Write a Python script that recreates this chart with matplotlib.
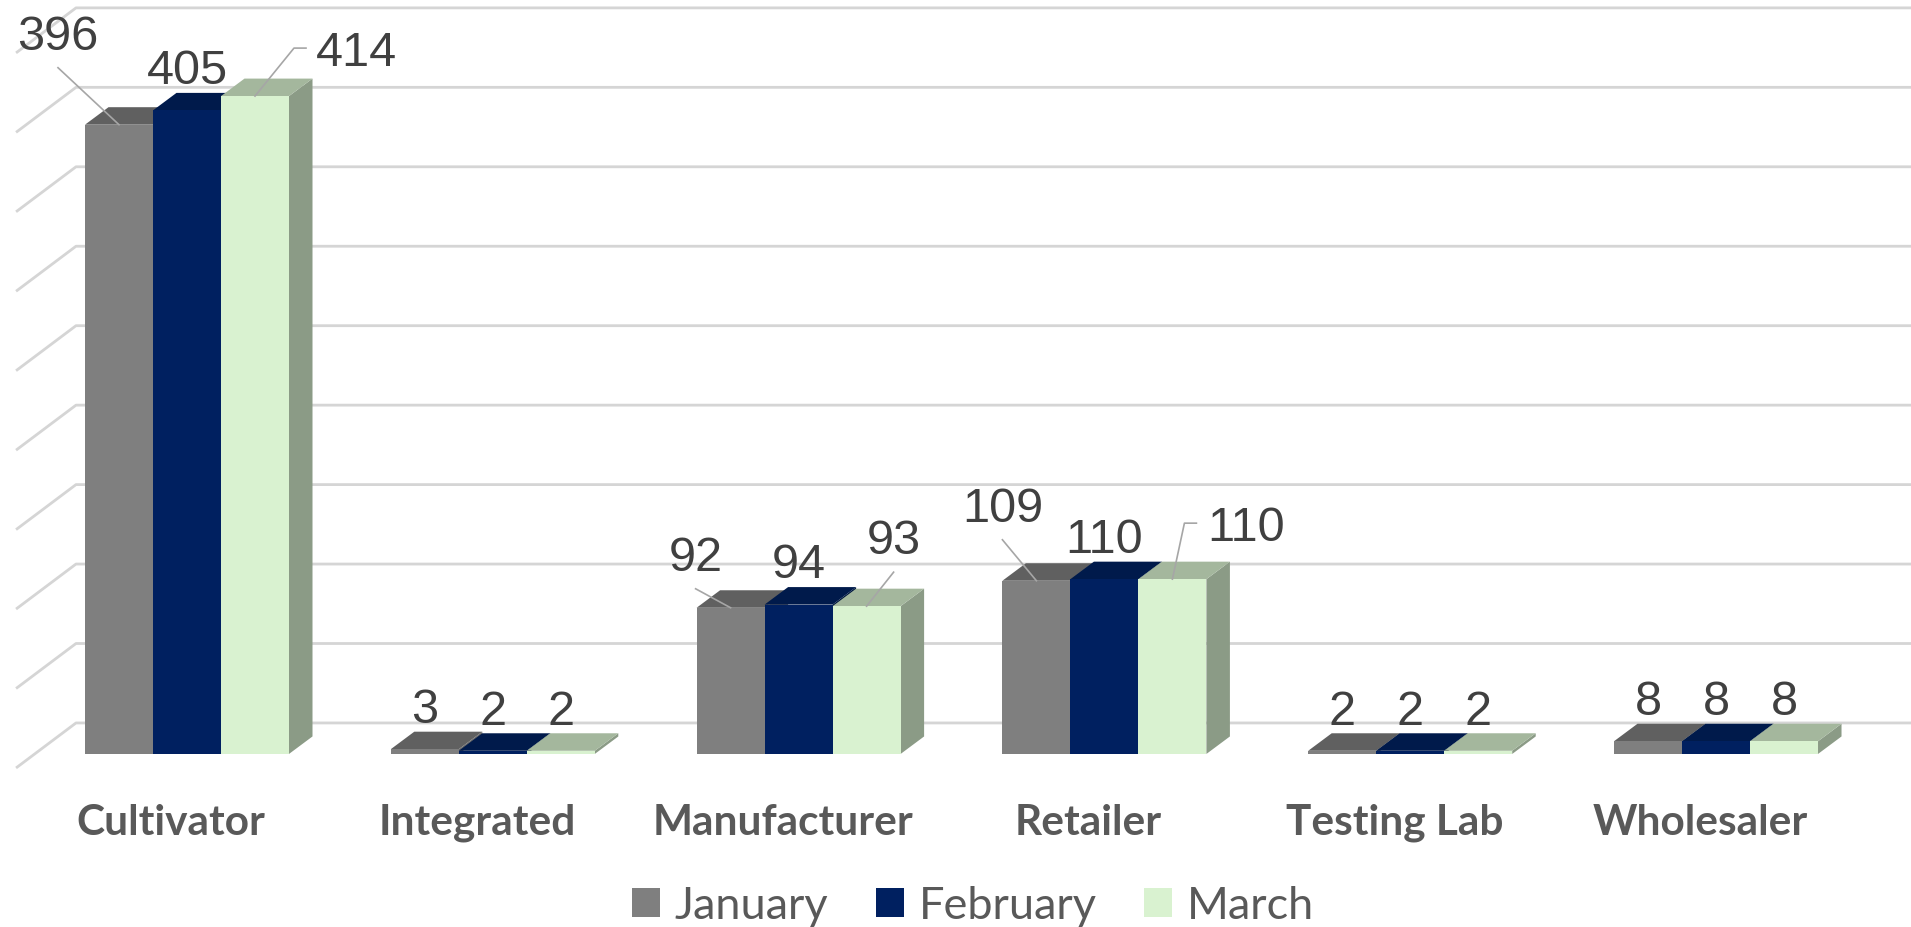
import matplotlib
matplotlib.use('Agg')
import matplotlib.pyplot as plt
from matplotlib.patches import Polygon, Patch
import numpy as np

# data
categories = ['Cultivator', 'Integrated', 'Manufacturer', 'Retailer', 'Testing Lab', 'Wholesaler']
months = ['January', 'February', 'March']
january = [396, 3, 92, 109, 2, 8]
february = [405, 2, 94, 110, 2, 8]
march = [414, 2, 93, 110, 2, 8]
grid_values = np.arange(0, 451, 50)

series = [january, february, march]
front_colors = ['#7F7F7F', '#002060', '#D9F2D0']
top_colors = ['#606060', '#001A4B', '#A4B79D']
side_colors = ['#6B6B6B', '#00173F', '#8B9B86']

# labels that were dragged away from the bar in the original (offset of the label centre
# from the bar's front-top corner, in pixels, and how the leader line is drawn)
moved_labels = {
    (0, 0): (-61, 93, 'below'),
    (2, 0): (101, 48, 'elbow'),
    (0, 2): (-35, 55, 'below'),
    (2, 2): (27, 70, 'below'),
    (0, 3): (-34, 77, 'below'),
    (2, 3): (74, 56, 'elbow'),
}

fig = plt.figure(figsize=(19.11, 9.28), dpi=100)
ax = fig.add_axes([0, 0, 1, 1])
ax.set_xlim(-0.6115, 5.6376)
ax.set_ylim(-108.9, 475.1)
ax.axis('off')

# pixel size of one data unit, used for the fake 3D depth
px_x = 1911 / (5.6376 + 0.6115)
px_y = 928 / (475.1 + 108.9)

bar_w = 68 / px_x
depth_x = 23.5 / px_x
depth_y = 17.5 / px_y

# walls: side wall diagonals and back wall horizontals
wall_front_x, wall_back_x = -0.559, -0.363
wall_front_y, wall_back_y = -14 / px_y, 31 / px_y
for v in grid_values:
    ax.plot([wall_front_x, wall_back_x, 5.6376], [v + wall_front_y, v + wall_back_y, v + wall_back_y],
            color='#D5D5D5', lw=2.0, zorder=1, solid_capstyle='butt')

x = np.arange(len(categories))
label_font = {'family': 'Liberation Sans', 'size': 35, 'color': '#404040'}

for s, vals in enumerate(series):
    centers = x + (s - 1) * bar_w
    ax.bar(centers, vals, width=bar_w, color=front_colors[s], linewidth=0, zorder=3 + s)
    for i, v in enumerate(vals):
        x0 = centers[i] - bar_w / 2
        x1 = centers[i] + bar_w / 2
        top = Polygon([(x0, v), (x0 + depth_x, v + depth_y), (x1 + depth_x, v + depth_y), (x1, v)],
                      closed=True, facecolor=top_colors[s], linewidth=0, zorder=2.5 + s)
        side = Polygon([(x1, 0), (x1 + depth_x, depth_y), (x1 + depth_x, v + depth_y), (x1, v)],
                       closed=True, facecolor=side_colors[s], linewidth=0, zorder=2.5 + s)
        ax.add_patch(side)
        ax.add_patch(top)

        if (s, i) in moved_labels:
            ox, oy, kind = moved_labels[(s, i)]
            cx = centers[i] + ox / px_x
            cy = v + oy / px_y
            ax.text(cx, cy - 17 / px_y, str(v), ha='center', va='baseline', zorder=10, **label_font)
            if kind == 'below':
                lx = [cx, centers[i]]
                ly = [cy - 36 / px_y, v]
            else:
                lx = [cx - 50 / px_x, cx - 62 / px_x, centers[i]]
                ly = [cy, cy, v]
            ax.plot(lx, ly, color='#A6A6A6', lw=1.2, zorder=9)
        else:
            ax.annotate(str(v), xy=(centers[i], v + depth_y), xytext=(0, 7), textcoords='offset points',
                        ha='center', va='baseline', zorder=10, **label_font)

for i, cat in enumerate(categories):
    ax.text(i - 0.052, -50.3, cat, ha='center', va='baseline', fontsize=30.5, fontweight='bold',
            color='#595959', family='Lato')

handles = [Patch(facecolor=front_colors[s], label=months[s]) for s in range(3)]
fig.legend(handles=handles, loc='center', bbox_to_anchor=(973 / 1911, 1 - 907 / 928), ncol=3,
           frameon=False, prop={'family': 'Lato', 'size': 32.5}, labelcolor='#595959',
           handlelength=0.62, handleheight=0.62, handletextpad=0.33, columnspacing=1.05)

fig.savefig('out.png', dpi=100)
